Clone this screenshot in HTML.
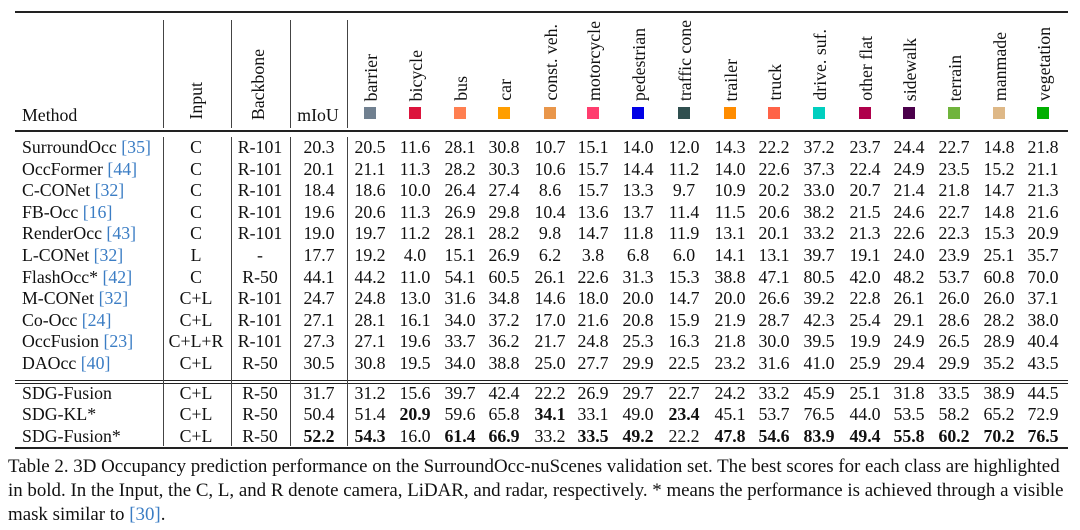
<!DOCTYPE html>
<html><head><meta charset="utf-8"><style>
body{margin:0;background:#fff;width:1080px;height:530px;overflow:hidden;font-family:"Liberation Serif",serif;color:#111}
#t{position:absolute;left:0;top:0;width:1080px;height:530px}
.c{position:absolute;font-size:17.8px;line-height:20px;white-space:nowrap;transform:translateX(-50%)}
.l{position:absolute;font-size:17.8px;line-height:20px;white-space:nowrap}
.h{position:absolute;height:1.5px;background:#222}
.v{position:absolute;width:1.3px;background:#444}
.rot{position:absolute;font-size:17.8px;white-space:nowrap;writing-mode:vertical-rl;transform:translateX(-50%) rotate(180deg);line-height:18px}
.box{position:absolute;width:12px;height:12px;transform:translateX(-50%)}
.ref{color:#3b7dc4}
.cap{position:absolute;left:8px;font-size:18.9px;white-space:nowrap;line-height:22px}
b{font-weight:bold}
</style></head><body>
<div id="t"></div>
<div class="cap" style="top:456px">Table 2. 3D Occupancy prediction performance on the SurroundOcc-nuScenes validation set. The best scores for each class are highlighted</div>
<div class="cap" style="top:480px">in bold. In the Input, the C, L, and R denote camera, LiDAR, and radar, respectively. * means the performance is achieved through a visible</div>
<div class="cap" style="top:504px">mask similar to <span class="ref">[30]</span>.</div>
<script>
const classes=["barrier","bicycle","bus","car","const. veh.","motorcycle","pedestrian","traffic cone","trailer","truck","drive. suf.","other flat","sidewalk","terrain","manmade","vegetation"];
const colors=["#708090","#dc143c","#ff7f50","#ff9e00","#e9964a","#ff3d6e","#0000e6","#2f4f4f","#ff8c00","#ff6347","#00cfbf","#af004b","#4b004b","#70b43c","#deb887","#00af00"];
const methods=["SurroundOcc","OccFormer","C-CONet","FB-Occ","RenderOcc","L-CONet","FlashOcc*","M-CONet","Co-Occ","OccFusion","DAOcc","SDG-Fusion","SDG-KL*","SDG-Fusion*"];
const refs=["[35]","[44]","[32]","[16]","[43]","[32]","[42]","[32]","[24]","[23]","[40]","","",""];
const inputs=["C","C","C","C","C","L","C","C+L","C+L","C+L+R","C+L","C+L","C+L","C+L"];
const backbones=["R-101","R-101","R-101","R-101","R-101","-","R-50","R-101","R-101","R-101","R-50","R-50","R-50","R-50"];
const miou=["20.3","20.1","18.4","19.6","19.0","17.7","44.1","24.7","27.1","27.3","30.5","31.7","50.4","52.2"];
const values=[
"20.5 11.6 28.1 30.8 10.7 15.1 14.0 12.0 14.3 22.2 37.2 23.7 24.4 22.7 14.8 21.8",
"21.1 11.3 28.2 30.3 10.6 15.7 14.4 11.2 14.0 22.6 37.3 22.4 24.9 23.5 15.2 21.1",
"18.6 10.0 26.4 27.4 8.6 15.7 13.3 9.7 10.9 20.2 33.0 20.7 21.4 21.8 14.7 21.3",
"20.6 11.3 26.9 29.8 10.4 13.6 13.7 11.4 11.5 20.6 38.2 21.5 24.6 22.7 14.8 21.6",
"19.7 11.2 28.1 28.2 9.8 14.7 11.8 11.9 13.1 20.1 33.2 21.3 22.6 22.3 15.3 20.9",
"19.2 4.0 15.1 26.9 6.2 3.8 6.8 6.0 14.1 13.1 39.7 19.1 24.0 23.9 25.1 35.7",
"44.2 11.0 54.1 60.5 26.1 22.6 31.3 15.3 38.8 47.1 80.5 42.0 48.2 53.7 60.8 70.0",
"24.8 13.0 31.6 34.8 14.6 18.0 20.0 14.7 20.0 26.6 39.2 22.8 26.1 26.0 26.0 37.1",
"28.1 16.1 34.0 37.2 17.0 21.6 20.8 15.9 21.9 28.7 42.3 25.4 29.1 28.6 28.2 38.0",
"27.1 19.6 33.7 36.2 21.7 24.8 25.3 16.3 21.8 30.0 39.5 19.9 24.9 26.5 28.9 40.4",
"30.8 19.5 34.0 38.8 25.0 27.7 29.9 22.5 23.2 31.6 41.0 25.9 29.4 29.9 35.2 43.5",
"31.2 15.6 39.7 42.4 22.2 26.9 29.7 22.7 24.2 33.2 45.9 25.1 31.8 33.5 38.9 44.5",
"51.4 *20.9 59.6 65.8 *34.1 33.1 49.0 *23.4 45.1 53.7 76.5 44.0 53.5 58.2 65.2 72.9",
"*54.3 16.0 *61.4 *66.9 33.2 *33.5 *49.2 22.2 *47.8 *54.6 *83.9 *49.4 *55.8 *60.2 *70.2 *76.5"];
const boldMiou=[13];
const colX=[370,415,460,504,550,593,638,684,730,774,819,865,909,954,999,1043];
const rowY=[147,169,190,212,233,255,277,298,320,341,363,393,414,436];
const T=document.getElementById('t');
function add(cls,style,html){const d=document.createElement('div');d.className=cls;d.setAttribute('style',style);if(html!==undefined)d.innerHTML=html;T.appendChild(d);return d;}
let e;
e=add('h','left:15px;width:1053px;top:11px;height:2px');


e=add('h','left:15px;width:1053px;top:130px;height:1.5px');


e=add('h','left:15px;width:1053px;top:380px;height:1.3px');


e=add('h','left:15px;width:1053px;top:383px;height:1.3px');


e=add('h','left:15px;width:1053px;top:447px;height:2px');


[163,231,290,347].forEach((x,i)=>{
 e=add('v',`left:${x}px;top:20px;height:108px`);
 
 
 e=add('v',`left:${x}px;top:137px;height:309px`);
 
 
});
e=add('l','left:22px;top:105px','Method');


e=add('rot','left:196px;bottom:410px','Input');


e=add('rot','left:258px;bottom:410px','Backbone');


e=add('c','left:318px;top:105px','mIoU');


classes.forEach((c,i)=>{
 e=add('rot',`left:${colX[i]+1}px;bottom:429px`,c);
 
 
 e=add('box',`left:${colX[i]}px;top:107px;background:${colors[i]}`);
 
 
});
methods.forEach((m,r)=>{
 const y=rowY[r]-10;
 e=add('l',`left:22px;top:${y}px`,m+(refs[r]?' <span class="ref">'+refs[r]+'</span>':''));
 
 
 e=add('c',`left:196px;top:${y}px`,inputs[r]);
 
 
 e=add('c',`left:260px;top:${y}px`,backbones[r]);
 
 
 e=add('c',`left:319px;top:${y}px`,boldMiou.includes(r)?'<b>'+miou[r]+'</b>':miou[r]);
 
 
 values[r].split(' ').forEach((v,i)=>{
  const b=v[0]==='*';const t=b?v.slice(1):v;
  e=add('c',`left:${colX[i]}px;top:${y}px`,b?'<b>'+t+'</b>':t);
  
  
 });
});
</script>
</body></html>
